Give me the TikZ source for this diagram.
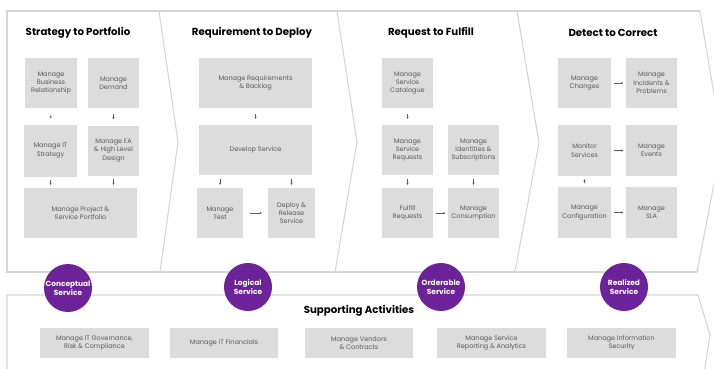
\documentclass[tikz,border=0pt]{standalone}
\usepackage{fontspec}
\setmainfont{Poppins}
\usetikzlibrary{arrows.meta}
\definecolor{bandline}{RGB}{214,214,214}
\definecolor{boxfill}{RGB}{220,220,220}
\definecolor{boxtext}{RGB}{90,90,90}
\definecolor{arrowgray}{RGB}{95,95,95}
\definecolor{stagepurple}{RGB}{108,34,152}
\begin{document}
\begin{tikzpicture}[x=1pt,y=-1pt,
		box/.style={fill=boxfill, text=boxtext, align=center, inner sep=0pt,
			font=\fontsize{6.5}{8.3}\selectfont},
		title/.style={font=\fontsize{10.2}{12}\selectfont\bfseries, text=black},
		stage/.style={circle, fill=stagepurple, text=white, minimum size=48pt, inner sep=0pt,
			align=center, font=\fontsize{7.4}{9.3}\selectfont\bfseries},
		flow/.style={draw=arrowgray, line width=0.45pt, -{Stealth[length=2.2pt,width=2.4pt]},
			shorten <=6pt, shorten >=6pt},
		short/.style={shorten <=2.5pt, shorten >=2.5pt},
		tight/.style={shorten <=3.5pt, shorten >=3pt}]
	\useasboundingbox (0,0) rectangle (714,369);
	\fill[white] (0,0) rectangle (714,369);
	\begin{scope}
		\clip (0,0) rectangle (714,369);
		\draw[bandline, line width=1.1pt] (700,11) -- (7,11) -- (7,272) -- (697,272);
		\draw[bandline, line width=1.1pt] (700,11) -- (722,142) -- (697,272);
		\draw[bandline, line width=1.1pt] (159,11) -- (178,142) -- (160,272);
		\draw[bandline, line width=1.1pt] (337,11) -- (357,142) -- (335,272);
		\draw[bandline, line width=1.1pt] (517,11) -- (539,143) -- (515,272);
		\draw[bandline, line width=1.1pt] (7,380) -- (7,295) -- (698,295) -- (710,335) -- (703,380);
	\end{scope}
	\node[title] at (78,33) {Strategy to Portfolio};
	\node[title] at (252,33) {Requirement to Deploy};
	\node[title] at (431,33) {Request to Fulfill};
	\node[title] at (613,33) {Detect to Correct};
	\node[title] at (359,311) {Supporting Activities};
	\node[box, minimum width=52pt, minimum height=50pt] (BizRel) at (51,83) {Manage\\Business\\Relationship};
	\node[box, minimum width=51pt, minimum height=50pt] (Demand) at (113.5,83) {Manage\\Demand};
	\node[box, minimum width=53pt, minimum height=52pt] (ItStrat) at (50.5,150.5) {Manage IT\\Strategy};
	\node[box, minimum width=51pt, minimum height=50pt] (EaDesign) at (113.5,150.5) {Manage EA\\\& High Level\\Design};
	\node[box, minimum width=113pt, minimum height=50pt] (Portfolio) at (80.5,213) {Manage Project \&\\Service Portfolio};
	\node[box, minimum width=113pt, minimum height=50pt] (ReqBacklog) at (255.5,83) {Manage Requirements\\\& Backlog};
	\node[box, minimum width=113pt, minimum height=50pt] (DevSvc) at (255.5,150) {Develop Service};
	\node[box, minimum width=46pt, minimum height=50pt] (MTest) at (220,213) {Manage\\Test};
	\node[box, minimum width=47pt, minimum height=50pt] (Deploy) at (291.5,213) {Deploy \&\\Release\\Service};
	\node[box, minimum width=51pt, minimum height=50pt] (Catalogue) at (407.5,83) {Manage\\Service\\Catalogue};
	\node[box, minimum width=51pt, minimum height=50pt] (SvcReq) at (407.5,150) {Manage\\Service\\Requests};
	\node[box, minimum width=51pt, minimum height=50pt] (Ident) at (473.5,150) {Manage\\Identities \&\\Subscriptions};
	\node[box, minimum width=51pt, minimum height=50pt] (Fulfill) at (407.5,213) {Fulfill\\Requests};
	\node[box, minimum width=51pt, minimum height=50pt] (Consume) at (473.5,213) {Manage\\Consumption};
	\node[box, minimum width=53pt, minimum height=50pt] (Changes) at (584.5,83) {Manage\\Changes};
	\node[box, minimum width=51pt, minimum height=50pt] (Incidents) at (651.5,83) {Manage\\Incidents \&\\Problems};
	\node[box, minimum width=53pt, minimum height=51pt] (Monitor) at (584.5,150.5) {Monitor\\Services};
	\node[box, minimum width=51pt, minimum height=51pt] (Events) at (651.5,150.5) {Manage\\Events};
	\node[box, minimum width=53pt, minimum height=51pt] (Config) at (584.5,212.5) {Manage\\Configuration};
	\node[box, minimum width=51pt, minimum height=51pt] (Sla) at (651.5,212.5) {Manage\\SLA};
	\node[box, minimum width=109pt, minimum height=30pt] (Gov) at (94.5,343) {Manage IT Governance,\\Risk \& Compliance};
	\node[box, minimum width=108pt, minimum height=30pt] (Fin) at (224,343) {Manage IT Financials};
	\node[box, minimum width=108pt, minimum height=30pt] (Vendors) at (359,343) {Manage Vendors\\\& Contracts};
	\node[box, minimum width=109pt, minimum height=30pt] (Report) at (491.5,343) {Manage Service\\Reporting \& Analytics};
	\node[box, minimum width=109pt, minimum height=30pt] (InfoSec) at (621.5,343) {Manage Information\\Security};
	\draw[flow] (BizRel) -- (ItStrat);
	\draw[flow] (Demand) -- (EaDesign);
	\draw[flow, tight] (ItStrat.south) -- (ItStrat.south |- Portfolio.north);
	\draw[flow, tight] (EaDesign.south) -- (EaDesign.south |- Portfolio.north);
	\draw[flow] (ReqBacklog) -- (DevSvc);
	\draw[flow, tight] (DevSvc.south -| MTest.north) -- (MTest.north);
	\draw[flow, tight] (DevSvc.south -| Deploy.north) -- (Deploy.north);
	\draw[flow, shorten <=7pt] (MTest) -- (Deploy);
	\draw[flow] (Catalogue) -- (SvcReq);
	\draw[flow, tight] (SvcReq) -- (Fulfill);
	\draw[flow, tight] (Ident) -- (Consume);
	\draw[flow, short] (Fulfill) -- (Consume);
	\draw[flow, short] (Changes) -- (Incidents);
	\draw[flow, short] (Monitor) -- (Events);
	\draw[flow, tight] (Config) -- (Monitor);
	\draw[flow, short] (Config) -- (Sla);
	\node[stage] (Conceptual) at (68,288) {Conceptual\\Service};
	\node[stage] (Logical) at (248,287) {Logical\\Service};
	\node[stage] (Orderable) at (441,287) {Orderable\\Service};
	\node[stage] (Realized) at (624,287) {Realized\\Service};
\end{tikzpicture}
\end{document}
